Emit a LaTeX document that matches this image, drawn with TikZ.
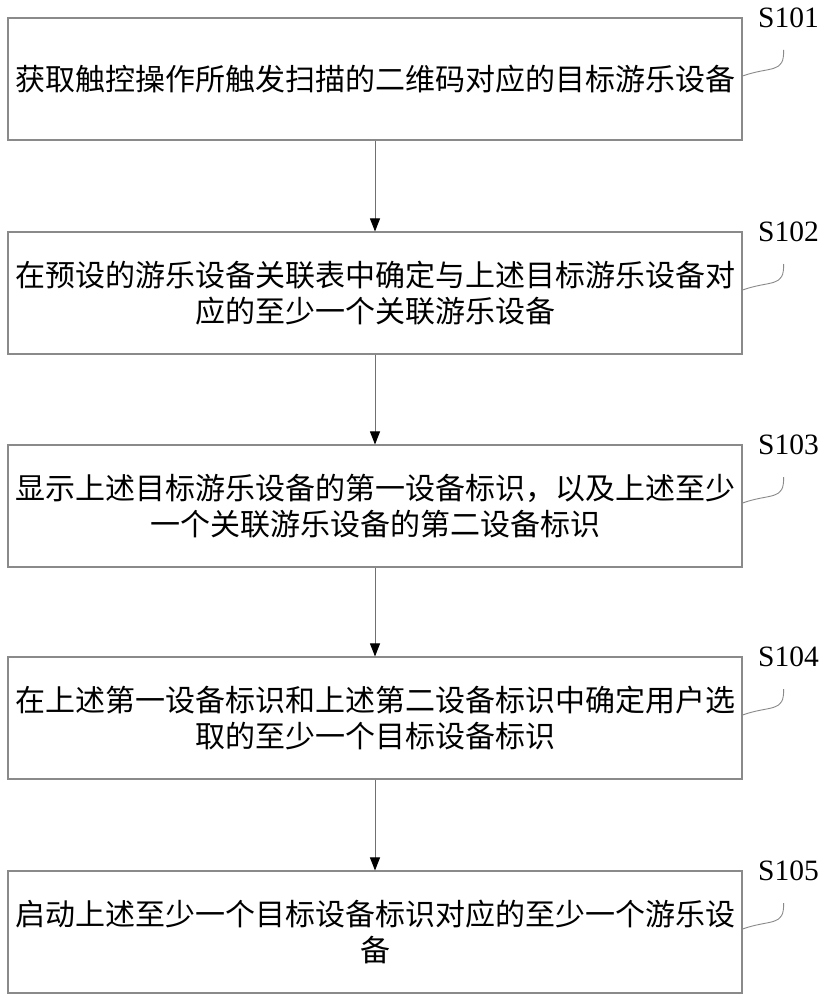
\documentclass[tikz,border=0pt]{standalone}
\usepackage{fontspec}
\setmainfont{Liberation Serif}
\newfontfamily\cjk{Noto Sans CJK SC}
\usetikzlibrary{arrows.meta}
\definecolor{boxgray}{HTML}{8A8A8A}
\definecolor{linegray}{HTML}{707070}
\begin{document}
\begin{tikzpicture}[x=1pt,y=-1pt,
  stepbox/.style={draw=boxgray, line width=1.1pt, minimum width=734pt, minimum height=122pt,
    inner sep=0pt, align=center, text width=730pt,
    font=\cjk\fontsize{30pt}{36pt}\selectfont},
  steplab/.style={inner sep=0pt, font=\fontsize{29.5pt}{32pt}\selectfont},
  arr/.style={draw=linegray, line width=0.9pt, -{Triangle[length=13pt,width=10pt,color=black]}},
  hook/.style={draw=boxgray, line width=0.9pt}]
\useasboundingbox (0,0) rectangle (826,1000);
\node[stepbox] (b1) at (375,79) {获取触控操作所触发扫描的二维码对应的目标游乐设备};
\node[stepbox] (b2) at (375,293) {在预设的游乐设备关联表中确定与上述目标游乐设备对\\应的至少一个关联游乐设备};
\node[stepbox] (b3) at (375,506) {显示上述目标游乐设备的第一设备标识，以及上述至少\\一个关联游乐设备的第二设备标识};
\node[stepbox] (b4) at (375,718) {在上述第一设备标识和上述第二设备标识中确定用户选\\取的至少一个目标设备标识};
\node[stepbox] (b5) at (375,932) {启动上述至少一个目标设备标识对应的至少一个游乐设\\备};
\foreach \i/\t in {1/S101,2/S102,3/S103,4/S104,5/S105}{
  \node[steplab] (l\i) at ([xshift=46pt]b\i.north east) {\t};
  \coordinate (e\i) at ([xshift=41pt,yshift=29pt]b\i.east);
  \draw[hook] ([yshift=3pt]b\i.east) .. controls +(28,-10) and +(1,24) .. (e\i);
}
\draw[arr] (b1.south) -- (b2.north);
\draw[arr] (b2.south) -- (b3.north);
\draw[arr] (b3.south) -- (b4.north);
\draw[arr] (b4.south) -- (b5.north);
\end{tikzpicture}
\end{document}
